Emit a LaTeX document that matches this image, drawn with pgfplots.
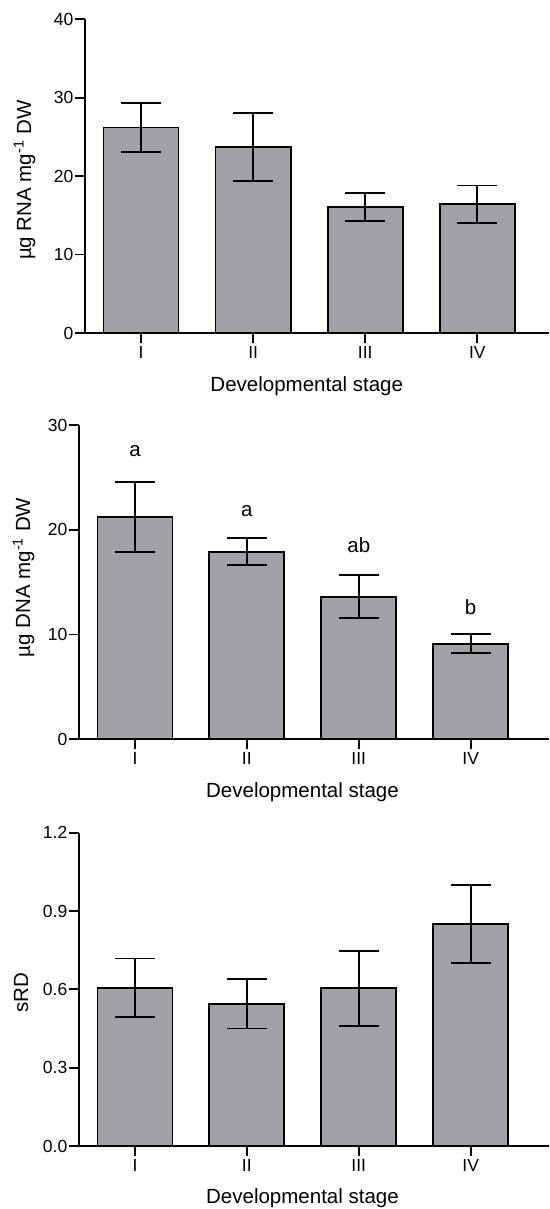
\documentclass[border=0pt]{standalone}
\usepackage{pgfplots}
\pgfplotsset{compat=1.18}
\usepackage{fontspec}
\setmainfont{Liberation Sans}
\definecolor{barfill}{RGB}{161,161,166}
\pgfplotsset{
  panel/.style={
    scale only axis,
    anchor=south west,
    axis x line=bottom, axis y line=left,
    axis line style={-, line width=1.8pt},
    tick align=outside,
    major tick length=10pt,
    tick style={line width=1.8pt, black},
    ymin=0,
    xtick={0,1,2,3}, xticklabels={I,II,III,IV},
    /pgf/number format/assume math mode=true,
    tick label style={font=\fontsize{17.5}{19}\selectfont},
    yticklabel style={inner sep=1.5pt},
    xticklabel style={inner sep=3pt},
    label style={font=\fontsize{20.5}{22}\selectfont},
    xlabel={Developmental stage},
    clip=false,
  },
  barsty/.style={
    ybar, bar width=0.67, fill=barfill, draw=black, line width=1.8pt,
    error bars/.cd, y dir=both, y explicit,
    error mark=|,
    error bar style={line width=1.8pt, black},
    error mark options={line width=1.8pt, mark size=20pt, black},
  },
}
\begin{document}
\begin{tikzpicture}
% Panel 1
\begin{axis}[panel, at={(85pt,876pt)}, width=464pt, height=313.7pt,
  xmin=-0.5, xmax=3.64, ymax=40, ytick={0,10,20,30,40},
  ylabel={µg RNA mg\textsuperscript{-1} DW},
  ylabel style={at={(axis description cs:-0.116,0.487)}, anchor=base},
  xlabel style={at={(axis description cs:0.478,-0.188)}, anchor=base},
]
\addplot[barsty] coordinates {
 (0,26.2) +- (0,3.15)
 (1,23.7) +- (0,4.3)
 (2,16.1) +- (0,1.8)
 (3,16.4) +- (0,2.4)
};
\end{axis}
% Panel 2
\begin{axis}[panel, at={(79pt,469.7pt)}, width=470pt, height=314.3pt,
  xmin=-0.5, xmax=3.70, ymax=30, ytick={0,10,20,30},
  ylabel={µg DNA mg\textsuperscript{-1} DW},
  ylabel style={at={(axis description cs:-0.104,0.515)}, anchor=base},
  xlabel style={at={(axis description cs:0.4755,-0.1845)}, anchor=base},
]
\addplot[barsty] coordinates {
 (0,21.2) +- (0,3.35)
 (1,17.9) +- (0,1.3)
 (2,13.6) +- (0,2.05)
 (3,9.13) +- (0,0.92)
};
\node[anchor=base, font=\fontsize{20.5}{22}\selectfont] at (axis cs:0,27.0) {a};
\node[anchor=base, font=\fontsize{20.5}{22}\selectfont] at (axis cs:1,21.25) {a};
\node[anchor=base, font=\fontsize{20.5}{22}\selectfont] at (axis cs:2,17.8) {ab};
\node[anchor=base, font=\fontsize{20.5}{22}\selectfont] at (axis cs:3,11.87) {b};
\end{axis}
% Panel 3
\begin{axis}[panel, at={(79pt,63pt)}, width=470pt, height=313.3pt,
  xmin=-0.5, xmax=3.70, ymax=1.2, ytick={0,0.3,0.6,0.9,1.2},
  yticklabel style={/pgf/number format/.cd, fixed, fixed zerofill, precision=1},
  ylabel={sRD},
  ylabel style={at={(axis description cs:-0.1085,0.49)}, anchor=base},
  xlabel style={at={(axis description cs:0.4755,-0.182)}, anchor=base},
]
\addplot[barsty] coordinates {
 (0,0.606) +- (0,0.112)
 (1,0.545) +- (0,0.095)
 (2,0.604) +- (0,0.143)
 (3,0.850) +- (0,0.150)
};
\end{axis}
\pgfresetboundingbox
\useasboundingbox (0pt,0pt) rectangle (549pt,1209pt);
\end{tikzpicture}
\end{document}
